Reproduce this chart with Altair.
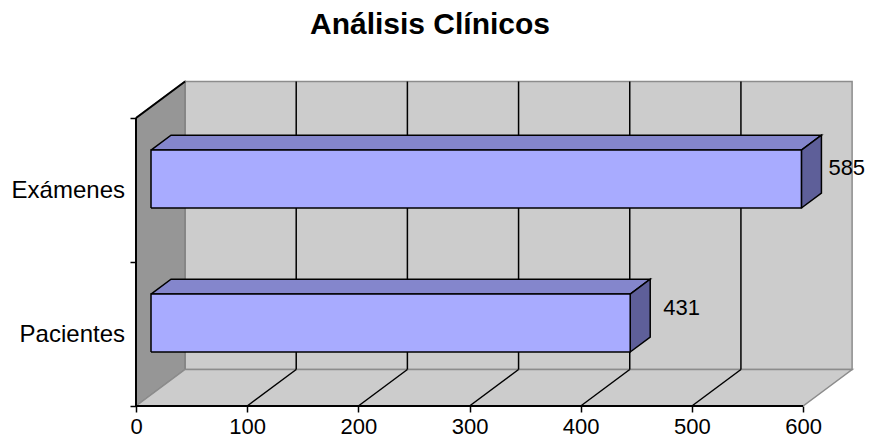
import altair as alt
import pandas as pd

# --- chart data ---
categories = ["Pacientes", "Exámenes"]
values = [431, 585]
x_ticks = [0, 100, 200, 300, 400, 500, 600]
y_ticks = [0, 1, 2]
title_text = "Análisis Clínicos"

# --- oblique projection, expressed in axis units ---
DX, DY = 44.1, 0.2535      # depth of the plot box
BX, BY = 18.0, 0.104       # depth of a bar
OX, OY = 13.5, 0.076       # inset of a bar in the box
BAR_LO, BAR_HI = 0.375, 0.777
XMAX, YMAX = 600, 2
FONT = "Liberation Sans"

x_scale = alt.Scale(domain=[0, 644], range=[0, 716], nice=False, zero=False)
y_scale = alt.Scale(domain=[0, 2.25], range=[324, 0], nice=False, zero=False)
x_axis = alt.Axis(values=x_ticks, domain=False, grid=False, tickColor="black", tickWidth=1.5,
                  tickSize=6, labelFont=FONT, labelFontSize=22, labelColor="black",
                  labelPadding=4, labelFlush=False, labelOverlap=False, format="d")
y_axis = alt.Axis(values=y_ticks, domain=False, grid=False, tickColor="black", tickWidth=1.5,
                  tickSize=6, labels=False)
X = alt.X("x:Q", scale=x_scale, axis=x_axis, title=None)
Y = alt.Y("y:Q", scale=y_scale, axis=y_axis, title=None)


def poly(points, fill, stroke, sw=1.5):
    pts = list(points) + [points[0]]
    df = pd.DataFrame([{"x": p[0], "y": p[1], "o": i} for i, p in enumerate(pts)])
    return alt.Chart(df).mark_line(
        fill=fill, stroke=stroke, strokeWidth=sw, strokeJoin="miter", interpolate="linear"
    ).encode(x=X, y=Y, order=alt.Order("o:Q"))


def segments(segs, stroke="black", sw=1.5):
    rows = []
    for k, (a, b) in enumerate(segs):
        rows.append({"x": a[0], "y": a[1], "k": k, "o": 0})
        rows.append({"x": b[0], "y": b[1], "k": k, "o": 1})
    return alt.Chart(pd.DataFrame(rows)).mark_line(stroke=stroke, strokeWidth=sw).encode(
        x=X, y=Y, detail="k:N", order=alt.Order("o:Q")
    )


layers = []

# box: back wall, left wall, floor
layers.append(poly([(DX, DY), (XMAX + DX, DY), (XMAX + DX, YMAX + DY), (DX, YMAX + DY)], "#CCCCCC", "#8C8C8C"))
layers.append(poly([(0, 0), (DX, DY), (DX, YMAX + DY), (0, YMAX)], "#969696", "#808080"))
layers.append(poly([(0, 0), (XMAX, 0), (XMAX + DX, DY), (DX, DY)], "#CCCCCC", "#8C8C8C"))

# gridlines on wall and floor
inner = x_ticks[1:-1]
layers.append(segments([((t + DX, DY), (t + DX, YMAX + DY)) for t in inner]))
layers.append(segments([((t, 0), (t + DX, DY)) for t in inner]))

# axis lines
layers.append(segments([((0, 0), (XMAX, 0)), ((0, 0), (0, YMAX)), ((0, YMAX), (DX, YMAX + DY))], sw=2))

# bars
for i, v in enumerate(values):
    lo, hi = i + BAR_LO, i + BAR_HI
    x0, x1 = OX, OX + v
    layers.append(poly([(x0, hi), (x1, hi), (x1 + BX, hi + BY), (x0 + BX, hi + BY)], "#8486CC", "black"))
    layers.append(poly([(x1, lo), (x1 + BX, lo + BY), (x1 + BX, hi + BY), (x1, hi)], "#5E5F99", "black"))
    layers.append(poly([(x0, lo), (x1, lo), (x1, hi), (x0, hi)], "#A8ABFF", "black"))

# data labels and category labels
for i, v in enumerate(values):
    lab_df = pd.DataFrame({"x": [v], "y": [i + 0.665], "t": [str(v)]})
    layers.append(
        alt.Chart(lab_df).mark_text(align="left", baseline="middle",
                                    dx=48 if v < 500 else 42, dy=-2 if v < 500 else 1.5,
                                    font=FONT, fontSize=22, color="black").encode(x=X, y=Y, text="t:N")
    )
cat_df = pd.DataFrame({"y": [i + 0.495 for i in range(len(categories))], "t": categories})
layers.append(
    alt.Chart(cat_df).mark_text(align="right", baseline="middle", font=FONT,
                                fontSize=24, color="black").encode(
        x=alt.value(-11), y=Y, text="t:N")
)

chart = alt.layer(*layers).properties(
    width=716,
    height=324,
    autosize=alt.AutoSizeParams(type="none"),
    padding={"left": 128, "top": 74, "right": 13, "bottom": 31},
    background="white",
    title=alt.TitleParams(title_text, font=FONT, fontSize=30, fontWeight="bold",
                          color="black", anchor="middle", dx=-64, offset=37),
).configure_view(stroke=None)

chart.save("out.html", embed_options={"renderer": "svg", "actions": False})
